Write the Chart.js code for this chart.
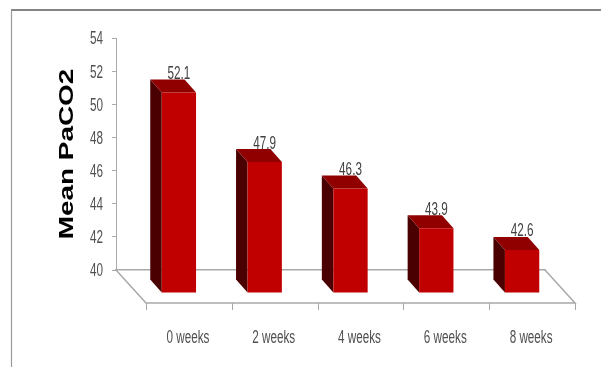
<!DOCTYPE html>
<html>
<head>
<meta charset="utf-8">
<style>
  html, body { margin: 0; padding: 0; background: #fff; }
  #wrap { width: 601px; height: 367px; position: relative; }
</style>
<script src="https://cdn.jsdelivr.net/npm/chart.js@4/dist/chart.umd.js"></script>
</head>
<body>
<div id="wrap"><canvas id="chart" width="601" height="367"></canvas></div>
<script>
const categories = ['0 weeks', '2 weeks', '4 weeks', '6 weeks', '8 weeks'];
const meanPaCO2 = [52.1, 47.9, 46.3, 43.9, 42.6];
const axisMin = 40;
const axisMax = 54;
const axisStep = 2;

const textFont = '"Liberation Sans", sans-serif';
const axisGrey = '#a9a9a9';
const frameGrey = '#858585';

// Oblique projection used for the floor and the bar extrusion.
const floorDepth = { x: 30, y: 33 };
const barShift = { x: 20, y: 23 };
const extrude = { x: 11.5, y: 13 };
const faceColors = { top: '#900000', side: '#4a0000' };

// Horizontal text scale: condensed labels, widened bold axis title.
const labelStretch = 0.65;
const titleStretch = 1.33;

const canvas = document.getElementById('chart');
const context = canvas.getContext('2d');
const plainFillText = context.fillText.bind(context);
context.fillText = function (text, x, y) {
  const sx = context.font.includes('bold') ? titleStretch : labelStretch;
  context.save();
  context.translate(x, y);
  context.scale(sx, 1);
  plainFillText(text, 0, 0);
  context.restore();
};

const frame3d = {
  id: 'frame3d',
  beforeDraw(chart) {
    const { ctx, width, height } = chart;
    ctx.save();
    ctx.strokeStyle = frameGrey;
    ctx.lineWidth = 2;
    ctx.beginPath();
    ctx.moveTo(width, 10);
    ctx.lineTo(11, 10);
    ctx.stroke();
    ctx.strokeStyle = '#9a9a9a';
    ctx.lineWidth = 1.2;
    ctx.beginPath();
    ctx.moveTo(11.5, 10);
    ctx.lineTo(11.5, height);
    ctx.stroke();
    ctx.restore();
  },
  // Floor parallelogram and its category ticks.
  beforeDatasetsDraw(chart) {
    const { ctx, chartArea: a, scales: { x } } = chart;
    const fy = a.bottom + floorDepth.y;
    ctx.save();
    ctx.strokeStyle = axisGrey;
    ctx.lineWidth = 1.5;
    ctx.beginPath();
    ctx.moveTo(a.left, a.bottom);
    ctx.lineTo(a.left + floorDepth.x, fy);
    ctx.lineTo(a.right + floorDepth.x, fy);
    ctx.lineTo(a.right, a.bottom);
    ctx.stroke();
    ctx.lineWidth = 1;
    const step = (a.right - a.left) / categories.length;
    for (let i = 0; i <= categories.length; i++) {
      const tx = Math.round(x.left + step * i + floorDepth.x) + 0.5;
      ctx.beginPath();
      ctx.moveTo(tx, fy);
      ctx.lineTo(tx, fy + 7);
      ctx.stroke();
    }
    ctx.restore();
  },
  // Side and top faces sit behind the front face that Chart.js draws.
  beforeDatasetDraw(chart, args) {
    const { ctx } = chart;
    ctx.save();
    ctx.translate(barShift.x, barShift.y);
    args.meta.data.forEach((bar) => {
      const l = bar.x - bar.width / 2;
      const r = bar.x + bar.width / 2;
      ctx.fillStyle = faceColors.side;
      ctx.beginPath();
      ctx.moveTo(l, bar.base);
      ctx.lineTo(l - extrude.x, bar.base - extrude.y);
      ctx.lineTo(l - extrude.x, bar.y - extrude.y);
      ctx.lineTo(l, bar.y);
      ctx.closePath();
      ctx.fill();
      ctx.fillStyle = faceColors.top;
      ctx.beginPath();
      ctx.moveTo(l, bar.y);
      ctx.lineTo(l - extrude.x, bar.y - extrude.y);
      ctx.lineTo(r - extrude.x, bar.y - extrude.y);
      ctx.lineTo(r, bar.y);
      ctx.closePath();
      ctx.fill();
    });
  },
  afterDatasetDraw(chart) {
    chart.ctx.restore();
  },
  // Value labels above each bar.
  afterDatasetsDraw(chart) {
    const { ctx } = chart;
    const meta = chart.getDatasetMeta(0);
    ctx.save();
    ctx.fillStyle = '#404040';
    ctx.font = '18px ' + textFont;
    ctx.textAlign = 'center';
    ctx.textBaseline = 'middle';
    meta.data.forEach((bar, i) => {
      ctx.fillText(meanPaCO2[i].toFixed(1), bar.x + barShift.x, bar.y + barShift.y - extrude.y - 5.5);
    });
    ctx.restore();
  }
};

new Chart(canvas, {
  type: 'bar',
  data: {
    labels: categories,
    datasets: [{
      data: meanPaCO2,
      backgroundColor: '#c00000',
      borderWidth: 0,
      barPercentage: 0.4,
      categoryPercentage: 1,
      base: axisMin,
      clip: false
    }]
  },
  options: {
    responsive: false,
    animation: false,
    layout: { padding: { left: 0, right: 56, top: 38, bottom: 0 } },
    plugins: { legend: { display: false }, tooltip: { enabled: false } },
    scales: {
      x: {
        afterFit(scale) { scale.height = 97; },
        border: { color: axisGrey, width: 1.5 },
        grid: { drawOnChartArea: false, drawTicks: false },
        ticks: {
          color: '#505050',
          font: { family: textFont, size: 18 },
          padding: 57,
          labelOffset: 29,
          maxRotation: 0
        }
      },
      y: {
        min: axisMin,
        max: axisMax,
        afterFit(scale) { scale.width = 116; },
        border: { color: axisGrey, width: 1 },
        grid: { drawOnChartArea: false, drawTicks: true, tickLength: 4, color: axisGrey },
        ticks: {
          stepSize: axisStep,
          color: '#505050',
          font: { family: textFont, size: 18 },
          padding: 9,
          labelOffset: 1.5
        },
        title: {
          display: true,
          text: 'Mean PaCO2',
          color: '#000',
          font: { family: textFont, size: 21, weight: 'bold' },
          padding: { top: 55, bottom: 0 }
        }
      }
    }
  },
  plugins: [frame3d]
});
</script>
</body>
</html>
